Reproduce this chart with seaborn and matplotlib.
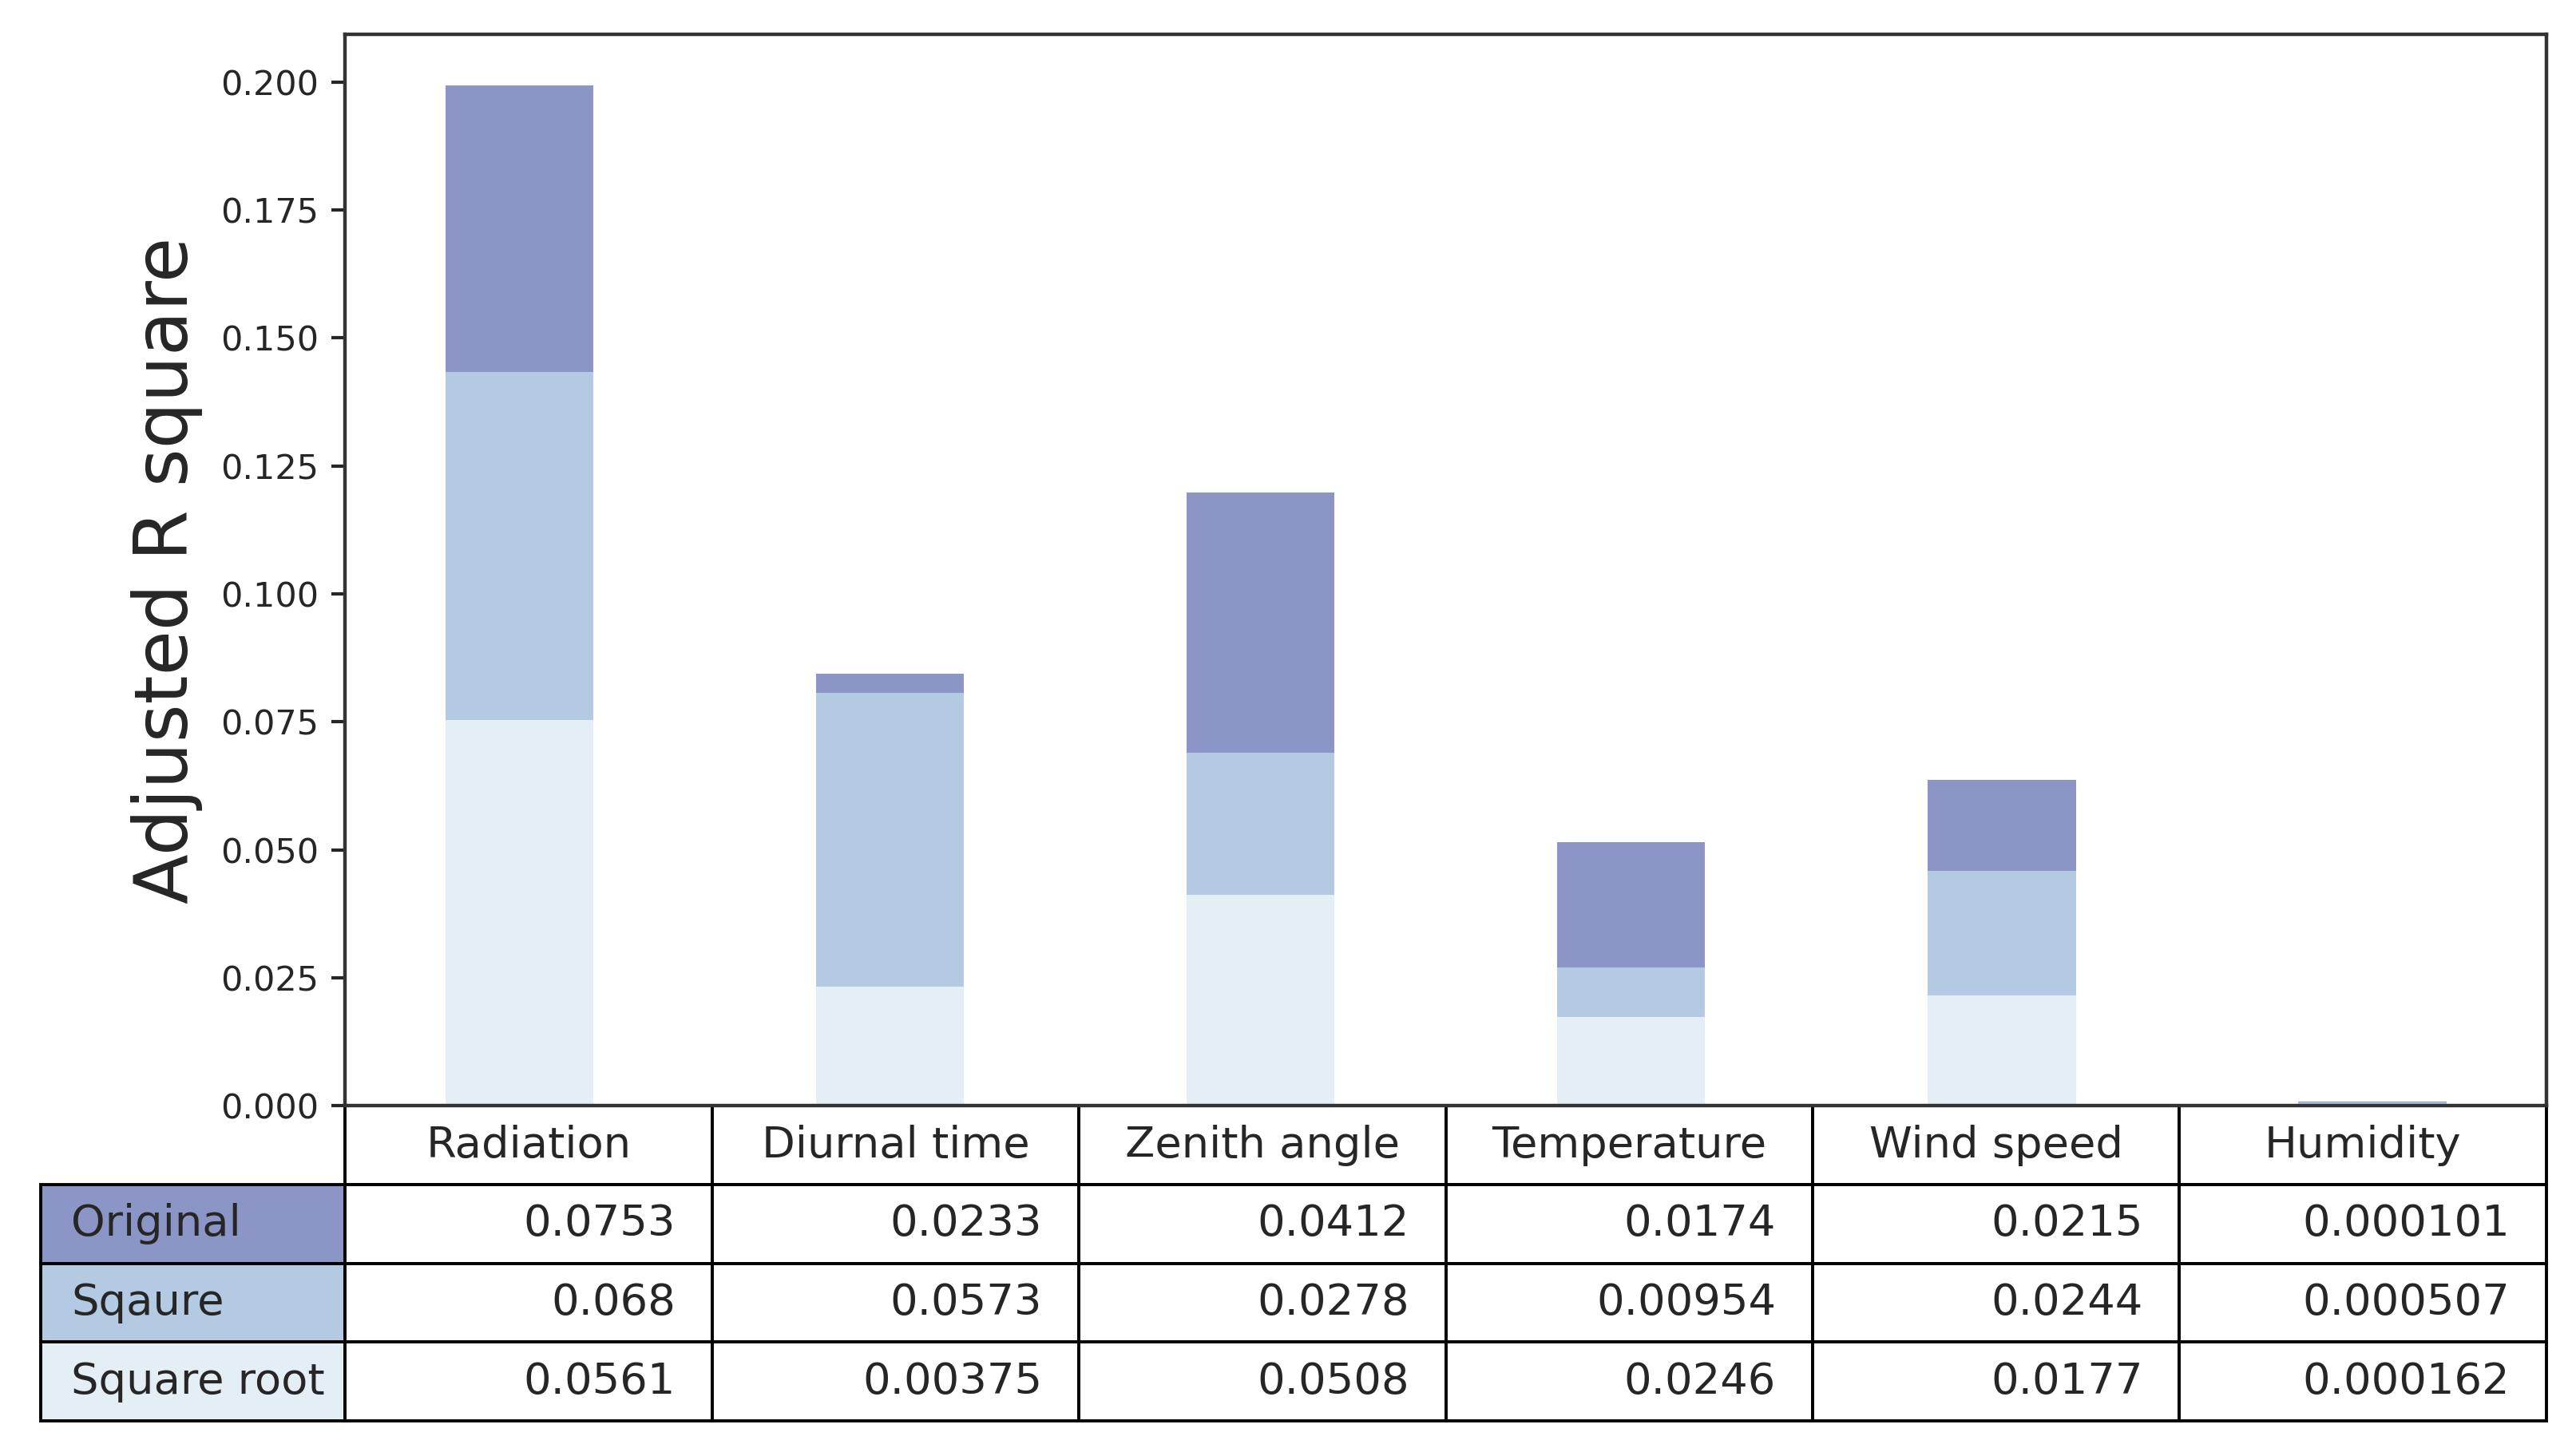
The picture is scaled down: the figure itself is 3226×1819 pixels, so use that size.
import numpy as np
import pandas as pd
import matplotlib
matplotlib.use("Agg")
import matplotlib.pyplot as plt
from matplotlib.ticker import FormatStrFormatter
import seaborn as sns

# ---- data ----
columns = ["Radiation", "Diurnal time", "Zenith angle", "Temperature", "Wind speed", "Humidity"]
rows = ["Original", "Sqaure", "Square root"]
original = [0.0753, 0.0233, 0.0412, 0.0174, 0.0215, 0.000101]
sqaure = [0.068, 0.0573, 0.0278, 0.00954, 0.0244, 0.000507]
square_root = [0.0561, 0.00375, 0.0508, 0.0246, 0.0177, 0.000162]
yticks = [0.000, 0.025, 0.050, 0.075, 0.100, 0.125, 0.150, 0.175, 0.200]

# ---- style ----
row_colors = ["#8c96c6", "#b3cae2", "#e4eef5"]
bar_colors = row_colors[::-1]

sns.set_style("ticks")
plt.rcParams["font.family"] = ["DejaVu Sans"]

fig = plt.figure(figsize=(16.13, 9.095), dpi=200)
ax = fig.add_axes([0.134, 0.2385, 0.8545, 0.738])

layers = np.array([original, sqaure, square_root])
cum = np.cumsum(layers, axis=0)
pos = np.arange(len(columns)) + 0.3

for i in reversed(range(len(rows))):
    df = pd.DataFrame({"x": pos, "y": cum[i]})
    sns.barplot(data=df, x="x", y="y", native_scale=True, width=0.4,
                color=bar_colors[i], saturation=1, errorbar=None,
                linewidth=0, ax=ax)

ax.set_xlim(-0.17, 5.77)
ax.set_ylim(0, cum[-1].max() * 1.05)
ax.set_xticks([])
ax.set_xlabel("")
ax.set_yticks(yticks)
ax.yaxis.set_major_formatter(FormatStrFormatter("%.3f"))
ax.tick_params(axis="y", labelsize=15.5, length=6, width=1.5, pad=6)
ax.set_ylabel("Adjusted R square", fontsize=33, labelpad=8)
for sp in ax.spines.values():
    sp.set_visible(True)
    sp.set_color("#333333")
    sp.set_linewidth(1.6)

cell_text = [["%1.3g" % v for v in layer] for layer in layers]
tbl = ax.table(cellText=cell_text, rowLabels=rows, rowColours=row_colors,
               colLabels=columns, loc="bottom")
tbl.auto_set_font_size(False)
tbl.set_fontsize(19.6)
for (r, c), cell in tbl.get_celld().items():
    cell.set_height(0.0735)
    cell.set_linewidth(1.4)
    cell.set_edgecolor("black")

fig.savefig("out.png", dpi=200)
